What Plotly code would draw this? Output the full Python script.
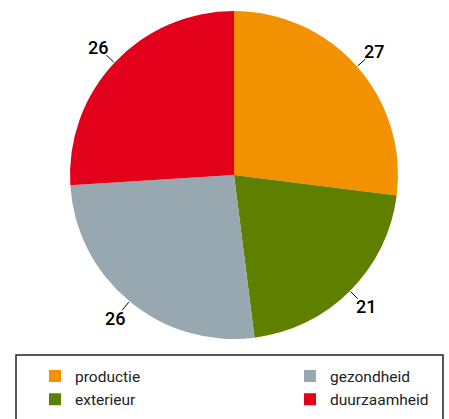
import math
import plotly.graph_objects as go

labels = ["productie", "exterieur", "gezondheid", "duurzaamheid"]
values = [27, 21, 26, 26]
colors = ["#F39200", "#5E7F00", "#98A8B1", "#E2001A"]
legend_cols = {"legend": ["productie", "exterieur"], "legend2": ["gezondheid", "duurzaamheid"]}

W, H = 449, 419
CX, CY, R = 234, 175, 164
FONT = "Roboto, Liberation Sans, sans-serif"

fig = go.Figure()
fig.add_trace(go.Pie(
    labels=labels, values=values, sort=False, direction="clockwise", rotation=0,
    marker=dict(colors=colors, line=dict(width=0)),
    textinfo="none", hoverinfo="label+value", showlegend=False,
    domain=dict(x=[(CX - R) / W, (CX + R) / W], y=[1 - (CY + R) / H, 1 - (CY - R) / H]),
))

for lg, names in legend_cols.items():
    for name in names:
        i = labels.index(name)
        fig.add_trace(go.Scatter(x=[None], y=[None], mode="markers", name=name, legend=lg,
                                 marker=dict(symbol="square", size=12, color=colors[i]),
                                 showlegend=True, hoverinfo="skip"))

total = sum(values)
cum = 0
shapes = []
annotations = []
for v in values:
    mid = (cum + v / 2) / total * 2 * math.pi
    cum += v
    s, c = math.sin(mid), math.cos(mid)
    def px(r):
        return (CX + r * s) / W, 1 - (CY - r * c) / H
    x0, y0 = px(165)
    x1, y1 = px(175)
    shapes.append(dict(type="line", xref="paper", yref="paper", x0=x0, y0=y0, x1=x1, y1=y1,
                       line=dict(color="#000000", width=1)))
    tx, ty = px(186)
    annotations.append(dict(text=str(v), x=tx, y=ty, xref="paper", yref="paper",
                            xanchor="center", yanchor="middle", showarrow=False,
                            font=dict(size=18, color="#000000", family=FONT, weight=500)))

shapes.append(dict(type="rect", xref="paper", yref="paper",
                   x0=16 / W, x1=443 / W, y0=1 - 430 / H, y1=1 - 355 / H,
                   line=dict(color="#222222", width=1.5), fillcolor="rgba(0,0,0,0)"))

leg_common = dict(orientation="v", xanchor="left", yanchor="top", bgcolor="rgba(0,0,0,0)",
                  font=dict(size=15.5, family=FONT, color="#222222"), itemclick=False,
                  itemdoubleclick=False, tracegroupgap=0)

fig.update_layout(
    width=W, height=H,
    margin=dict(l=0, r=0, t=0, b=0, autoexpand=False),
    paper_bgcolor="white", plot_bgcolor="white",
    xaxis=dict(visible=False), yaxis=dict(visible=False),
    shapes=shapes, annotations=annotations,
    font=dict(family=FONT, size=16, color="#222222"),
    legend=dict(x=35 / W, y=1 - 359.5 / H, **leg_common),
    legend2=dict(x=290 / W, y=1 - 359.5 / H, **leg_common),
)

fig.write_html("out.html", config={"displayModeBar": False},
               post_script="document.body.style.margin='0';document.body.style.overflow='hidden';")
